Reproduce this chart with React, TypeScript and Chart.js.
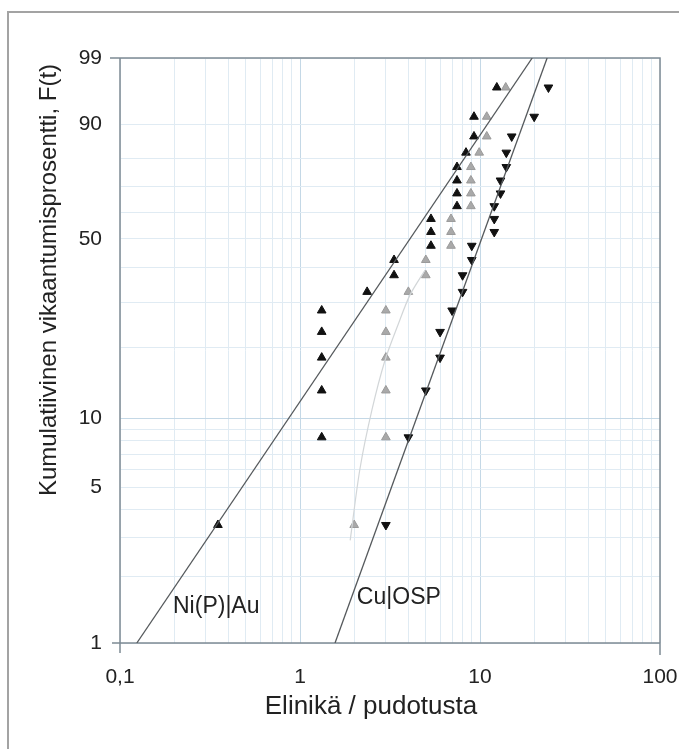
import React, { useEffect, useRef } from "react";
import { Chart, registerables } from "chart.js";
Chart.register(...registerables);

// Cumulative failure percentage (median ranks) shared by the three test groups
const failurePct = [3.4, 8.3, 13.2, 18.1, 23.0, 27.9, 32.8, 37.7, 42.6, 47.5, 52.5, 57.4, 62.3, 67.2, 72.1, 77.0, 81.9, 86.8, 91.7, 96.6];
// Lifetimes (drops)
const niAuLife = [0.35, 1.32, 1.32, 1.32, 1.32, 1.32, 2.36, 3.33, 3.33, 5.34, 5.34, 5.34, 7.45, 7.45, 7.45, 7.45, 8.36, 9.26, 9.26, 12.4];
const grayLife = [2.0, 3.0, 3.0, 3.0, 3.0, 3.0, 4.0, 5.0, 5.0, 6.9, 6.9, 6.9, 8.9, 8.9, 8.9, 8.9, 9.9, 10.9, 10.9, 13.9];
const cuOspLife = [3, 4, 5, 6, 6, 7, 8, 8, 9, 9, 12, 12, 12, 13, 13, 14, 14, 15, 20, 24];

// Fitted Weibull lines (end points at 1 % and 99 %)
const fitPct = [1, 99];
const niFitLife = [0.124, 19.5];
const cuFitLife = [1.565, 23.6];
// Faint gray fitted curve
const grayCurveLife = [1.9, 2.15, 2.51, 2.97, 3.5, 4.08, 4.95];
const grayCurvePct = [2.9, 6.0, 10.9, 17.7, 24.5, 31.9, 39.3];

// Axis ticks
const yGridPct = [1, 2, 3, 4, 5, 6, 7, 8, 9, 10, 20, 30, 40, 50, 60, 70, 80, 90, 99];
const yLabelPct = [1, 5, 10, 50, 90, 99];
const xGridVals = [0.1, 0.2, 0.3, 0.4, 0.5, 0.6, 0.7, 0.8, 0.9, 1, 2, 3, 4, 5, 6, 7, 8, 9, 10, 20, 30, 40, 50, 60, 70, 80, 90, 100];
const xLabelVals = [0.1, 1, 10, 100];
const xLabelText = ["0,1", "1", "10", "100"];

const xTitle = "Elinikä / pudotusta";
const yTitle = "Kumulatiivinen vikaantumisprosentti, F(t)";
const niLabel = "Ni(P)|Au";
const cuLabel = "Cu|OSP";

const FONT = '"Liberation Sans", Arial, sans-serif';

const weib = (p: number) => Math.log(-Math.log(1 - p / 100));
const pts = (xs: number[], ps: number[]) => xs.map((x, i) => ({ x, y: weib(ps[i]) }));

const near = (a: number, b: number) => Math.abs(a - b) < 1e-9 * Math.max(1, Math.abs(b));

export default function App() {
  const ref = useRef<HTMLCanvasElement>(null);
  useEffect(() => {
    if (!ref.current) return;
    const deco = {
      id: "deco",
      beforeDraw(chart: any) {
        const c = chart.ctx;
        c.save();
        c.fillStyle = "#ffffff";
        c.fillRect(0, 0, chart.width, chart.height);
        c.strokeStyle = "#a3a3a3";
        c.lineWidth = 2;
        c.beginPath();
        c.moveTo(8, chart.height);
        c.lineTo(8, 12);
        c.lineTo(chart.width, 12);
        c.stroke();
        c.restore();
      },
      beforeDatasetsDraw(chart: any) {
        const c = chart.ctx;
        const a = chart.chartArea;
        c.save();
        c.strokeStyle = "#7d8b94";
        c.lineWidth = 1.5;
        c.beginPath();
        // frame with small extensions at the corners
        c.moveTo(a.left - 10, a.top);
        c.lineTo(a.right, a.top);
        c.lineTo(a.right, a.bottom + 12);
        c.moveTo(a.left - 8, a.bottom);
        c.lineTo(a.right, a.bottom);
        c.moveTo(a.left, a.top);
        c.lineTo(a.left, a.bottom + 10);
        c.stroke();
        c.restore();
      },
      afterDraw(chart: any) {
        const c = chart.ctx;
        const xs = chart.scales.x;
        const ys = chart.scales.y;
        c.save();
        c.fillStyle = "#222";
        c.textBaseline = "middle";
        c.font = `23px ${FONT}`;
        c.textAlign = "left";
        c.fillText(niLabel, xs.getPixelForValue(0.197), ys.getPixelForValue(weib(1.46)));
        c.fillText(cuLabel, xs.getPixelForValue(2.07), ys.getPixelForValue(weib(1.6)));
        c.textAlign = "center";
        c.font = `26px ${FONT}`;
        c.fillText(xTitle, 371, 707);
        c.translate(49, 280);
        c.rotate(-Math.PI / 2);
        c.font = `24px ${FONT}`;
        c.fillText(yTitle, 0, 0);
        c.restore();
      },
    };

    const chart = new Chart(ref.current, {
      type: "scatter",
      data: {
        datasets: [
          {
            label: "Ni(P)|Au fit",
            data: pts(niFitLife, fitPct),
            showLine: true,
            borderColor: "#55595c",
            borderWidth: 1.3,
            pointRadius: 0,
          },
          {
            label: "Cu|OSP fit",
            data: pts(cuFitLife, fitPct),
            showLine: true,
            borderColor: "#55595c",
            borderWidth: 1.3,
            pointRadius: 0,
          },
          {
            label: "gray fit",
            data: pts(grayCurveLife, grayCurvePct),
            showLine: true,
            borderColor: "#d2d6d8",
            borderWidth: 1.2,
            pointRadius: 0,
            tension: 0.3,
          },
          {
            label: "gray",
            data: pts(grayLife, failurePct),
            pointStyle: "triangle",
            pointRadius: 5,
            backgroundColor: "#a9a9a9",
            borderColor: "#9a9a9a",
            borderWidth: 1,
          },
          {
            label: "Ni(P)|Au",
            data: pts(niAuLife, failurePct),
            pointStyle: "triangle",
            pointRadius: 5,
            backgroundColor: "#111111",
            borderColor: "#111111",
            borderWidth: 1,
          },
          {
            label: "Cu|OSP",
            data: pts(cuOspLife, failurePct),
            pointStyle: "triangle",
            rotation: 180,
            pointRadius: 5,
            backgroundColor: "#111111",
            borderColor: "#111111",
            borderWidth: 1,
          },
        ],
      },
      options: {
        animation: false,
        responsive: false,
        maintainAspectRatio: false,
        layout: { padding: { left: 0, top: 58, right: 19, bottom: 0 } },
        plugins: { legend: { display: false }, tooltip: { enabled: false } },
        scales: {
          x: {
            type: "logarithmic",
            min: 0.1,
            max: 100,
            afterBuildTicks: (s: any) => {
              s.ticks = xGridVals.map((v) => ({ value: v }));
            },
            afterFit: (s: any) => {
              s.height = 106;
              s.paddingLeft = 0;
              s.paddingRight = 0;
            },
            border: { display: false },
            grid: {
              drawTicks: false,
              lineWidth: 1,
              color: (ctx: any) => {
                const v = ctx.tick && ctx.tick.value;
                return near(v, 1) || near(v, 10) ? "#c4d8e6" : "#e0ebf3";
              },
            },
            ticks: {
              autoSkip: false,
              maxRotation: 0,
              minRotation: 0,
              padding: 22,
              color: "#222",
              font: { family: FONT, size: 21 },
              callback: (v: any) => {
                const i = xLabelVals.findIndex((x) => near(Number(v), x));
                return i >= 0 ? xLabelText[i] : "";
              },
            },
          },
          y: {
            type: "linear",
            min: weib(1),
            max: weib(99),
            afterBuildTicks: (s: any) => {
              s.ticks = yGridPct.map((p) => ({ value: weib(p) }));
            },
            afterFit: (s: any) => {
              s.width = 120;
              s.paddingTop = 0;
              s.paddingBottom = 0;
            },
            border: { display: false },
            grid: {
              drawTicks: false,
              lineWidth: 1,
              color: (ctx: any) => (ctx.index === 9 ? "#c4d8e6" : "#e0ebf3"),
            },
            ticks: {
              autoSkip: false,
              padding: 18,
              color: "#222",
              font: { family: FONT, size: 21 },
              callback: (_v: any, i: number) => {
                const p = yGridPct[i];
                return yLabelPct.includes(p) ? String(p) : "";
              },
            },
          },
        },
      },
      plugins: [deco],
    } as any);
    return () => chart.destroy();
  }, []);

  return (
    <div style={{ position: "absolute", left: 0, top: 0, width: 679, height: 749, background: "#fff" }}>
      <canvas ref={ref} width={679} height={749} style={{ width: 679, height: 749, display: "block" }} />
    </div>
  );
}
